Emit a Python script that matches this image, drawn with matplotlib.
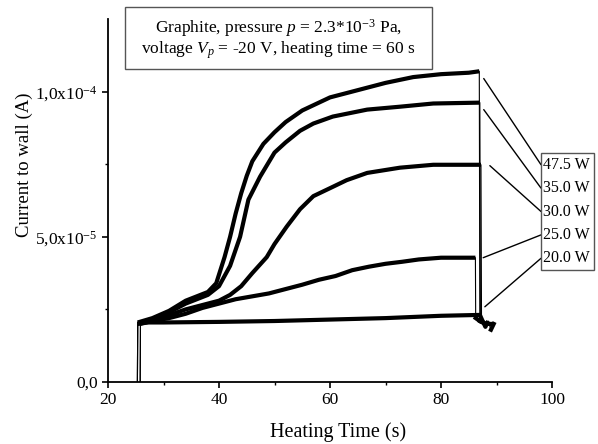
import numpy as np
import matplotlib
matplotlib.use('Agg')
import matplotlib.pyplot as plt
from matplotlib.patches import Rectangle

plt.rcParams['font.family'] = ['Liberation Serif', 'DejaVu Serif']
plt.rcParams['mathtext.fontset'] = 'custom'
plt.rcParams['mathtext.rm'] = 'Liberation Serif'
plt.rcParams['mathtext.it'] = 'Liberation Serif:italic'

SCALE = 1e-5  # current values below are in units of 1e-5 A

labels = ['47.5 W', '35.0 W', '30.0 W', '25.0 W', '20.0 W']

t_475 = [25.3, 25.35, 28, 31, 34, 36, 38, 39.5, 41, 42, 43, 44, 45, 46, 48, 50, 52, 55,
         60, 65, 70, 75, 80, 85, 86.9, 87.0, 88.0, 89.0]
i_475 = [0.0, 2.05, 2.2, 2.45, 2.8, 2.95, 3.1, 3.4, 4.3, 5.0, 5.8, 6.5, 7.1, 7.6, 8.2, 8.6, 8.95, 9.35,
         9.8, 10.05, 10.3, 10.5, 10.6, 10.65, 10.7, 2.1, 2.0, 2.0]

t_350 = [25.3, 25.35, 28, 31, 34, 36, 38, 40, 42, 43.8, 45.3, 47.4, 50, 52, 54.6, 57,
         60.5, 66.7, 72.6, 78.6, 87.0, 87.1, 88.0]
i_350 = [0.0, 2.0, 2.15, 2.4, 2.7, 2.85, 3.0, 3.3, 4.0, 5.0, 6.28, 7.07, 7.9, 8.25, 8.65, 8.9,
         9.14, 9.38, 9.48, 9.59, 9.62, 2.1, 2.0]

t_300 = [25.8, 25.85, 28, 31, 34, 37, 40, 42, 44, 46, 48.6, 50, 52.2, 54.6, 57, 60.5, 63,
         66.7, 72.6, 78.6, 87.2, 87.3, 88.0]
i_300 = [0.0, 2.0, 2.1, 2.3, 2.5, 2.65, 2.8, 3.0, 3.3, 3.75, 4.3, 4.75, 5.35, 5.95, 6.4, 6.72, 6.95,
         7.2, 7.38, 7.48, 7.48, 2.1, 2.0]

t_250 = [25.3, 25.35, 28, 31, 34, 37, 40, 43, 46, 49, 52, 55, 58, 61, 64, 67, 70, 73, 76,
         80, 86.2, 86.25, 87.0]
i_250 = [0.0, 2.0, 2.1, 2.2, 2.35, 2.55, 2.7, 2.85, 2.95, 3.05, 3.2, 3.35, 3.52, 3.65, 3.85, 3.97,
         4.07, 4.14, 4.22, 4.28, 4.28, 2.2, 2.1]

t_200 = [25.8, 25.85, 30, 40, 50, 60, 70, 80, 87.0, 87.5, 88.0, 88.5, 89.0, 89.5]
i_200 = [0.0, 2.05, 2.05, 2.07, 2.1, 2.15, 2.2, 2.28, 2.31, 2.1, 1.9, 2.1, 1.8, 2.0]

series_t = [t_475, t_350, t_300, t_250, t_200]
series_i = [i_475, i_350, i_300, i_250, i_200]

# annotation anchor points (where label leader lines touch the curves)
anchor_t = [87.7, 87.7, 88.8, 87.6, 87.9]
anchor_i = [10.45, 9.38, 7.45, 4.28, 2.59]

W, H = 598, 444
fig = plt.figure(figsize=(W / 100, H / 100), dpi=100)
ax = fig.add_axes([108 / W, 1 - 382 / H, (552 - 108) / W, (382 - 19) / H])

for t, i in zip(series_t, series_i):
    t = np.asarray(t, float)
    y = np.asarray(i, float) * SCALE
    drop = int(np.argmin(np.diff(y)))
    ax.plot(t, y, color='black', lw=0.8, zorder=2)
    ax.plot(t[1:drop + 1], y[1:drop + 1], color='black', lw=3.0,
            solid_capstyle='butt', solid_joinstyle='round', zorder=3)
    ax.plot(t[drop + 1:], y[drop + 1:], color='black', lw=3.0, zorder=3)

ax.set_xlim(20, 100)
ax.set_ylim(0, 1.25e-4)
ax.spines['top'].set_visible(False)
ax.spines['right'].set_visible(False)
for s in ('left', 'bottom'):
    ax.spines[s].set_linewidth(1.3)

ax.set_xticks([20, 40, 60, 80, 100])
ax.set_xticks([30, 50, 70, 90], minor=True)
ax.set_yticks([0, 5e-5, 1e-4])
ax.set_yticklabels(['0,0', '5,0x10$^{-5}$', '1,0x10$^{-4}$'])
ax.set_yticks([2.5e-5, 7.5e-5], minor=True)
ax.tick_params(which='major', direction='out', length=4.5, width=1.2, labelsize=12.5, pad=3)
ax.tick_params(which='minor', direction='out', length=2.5, width=1.0)

ax.set_xlabel('Heating Time (s)', fontsize=14.5, va='top')
ax.xaxis.set_label_coords((338 - 108) / 444, -(422 - 382) / 363)
ax.set_ylabel('Current to wall (A)', fontsize=13.5, va='center')
ax.yaxis.set_label_coords((24 - 108) / 444, (382 - 165) / 363)

# info box at the top
bx0, by0, bx1, by1 = 125, 7, 432, 69
fig.patches.append(Rectangle((bx0 / W, 1 - by1 / H), (bx1 - bx0) / W, (by1 - by0) / H,
                             transform=fig.transFigure, fill=False, ec='#555555', lw=1.0))
cx = (bx0 + bx1) / 2 / W
fig.text(cx, 1 - 28 / H, 'Graphite, pressure $\\mathit{p}$ = 2.3*10$^{-3}$ Pa,',
         ha='center', va='center', fontsize=12.5)
fig.text(cx, 1 - 50 / H, 'voltage $\\mathit{V}_{\\mathit{p}}$ = -20 V, heating time = 60 s',
         ha='center', va='center', fontsize=12.5)

# label box on the right
lx0, ly0, lx1, ly1 = 541, 153, 594, 270
fig.patches.append(Rectangle((lx0 / W, 1 - ly1 / H), (lx1 - lx0) / W, (ly1 - ly0) / H,
                             transform=fig.transFigure, fill=False, ec='#555555', lw=1.0))
row_h = (ly1 - ly0) / len(labels)
for k, lab in enumerate(labels):
    ry = ly0 + (k + 0.5) * row_h
    fig.text((lx0 + 2) / W, 1 - ry / H, lab, ha='left', va='center', fontsize=11.5)
    ax.annotate('', xy=(anchor_t[k], anchor_i[k] * SCALE), xycoords='data',
                xytext=(lx0 / W, 1 - ry / H), textcoords='figure fraction',
                arrowprops=dict(arrowstyle='-', color='black', lw=1.0,
                                shrinkA=0, shrinkB=0),
                annotation_clip=False)

fig.savefig('out.png', dpi=100)
